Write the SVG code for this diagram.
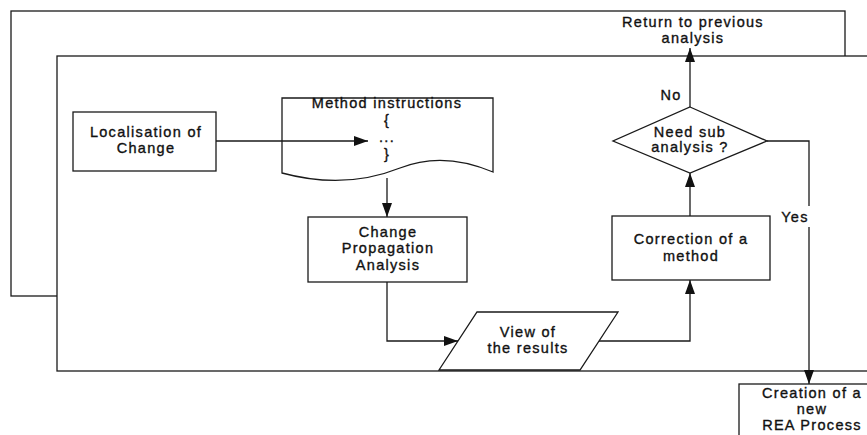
<svg xmlns="http://www.w3.org/2000/svg" width="867" height="435" viewBox="0 0 867 435">
<defs>
<style>
.f{fill:#fff;stroke:#1a1a1a;stroke-width:1.3}
.l{fill:none;stroke:#1a1a1a;stroke-width:1.3}
text{font-family:"Liberation Sans",Arial,sans-serif;font-size:14.5px;fill:#111;stroke:#111;stroke-width:0.35;text-anchor:middle;letter-spacing:1.3px}
</style>
<marker id="a" viewBox="0 0 14 10" refX="14" refY="5" markerWidth="14" markerHeight="10" markerUnits="userSpaceOnUse" orient="auto">
<path d="M0,0 L14,5 L0,10 Z" fill="#111"/>
</marker>
</defs>
<rect width="867" height="435" fill="#fff"/>
<g id="outer-frame"><rect class="f" x="11" y="11" width="834" height="285"/></g>
<g id="inner-frame"><rect class="f" x="57" y="56" width="830" height="315"/></g>
<g id="return">
<text x="693" y="27">Return to previous</text>
<text x="693" y="43">analysis</text>
</g>
<g id="localisation">
<rect class="f" x="73" y="112" width="143" height="59"/>
<text x="146" y="137">Localisation of</text>
<text x="146" y="153">Change</text>
</g>
<g id="method-instructions">
<path class="f" d="M282,98 H493 V172 C460,158 430,156 400,168 C370,180 330,186 282,173 Z"/>
<text x="387" y="108">Method instructions</text>
<text x="387" y="125">{</text>
<text x="387" y="142">...</text>
<text x="387" y="159">}</text>
</g>
<g id="change-propagation">
<rect class="f" x="308" y="217" width="159" height="65"/>
<text x="388" y="237">Change</text>
<text x="388" y="253">Propagation</text>
<text x="388" y="270">Analysis</text>
</g>
<g id="view-results">
<path class="f" d="M477,312 H618 L580,370 H439 Z"/>
<text x="528" y="337">View of</text>
<text x="528" y="353">the results</text>
</g>
<g id="correction">
<rect class="f" x="612" y="216" width="158" height="64"/>
<text x="691" y="244">Correction of a</text>
<text x="691" y="261">method</text>
</g>
<g id="need-sub">
<path class="f" d="M690,107 L767,141 L690,173 L613,141 Z"/>
<text x="690" y="137">Need sub</text>
<text x="690" y="152">analysis ?</text>
</g>
<g id="creation">
<rect class="f" x="739" y="384" width="140" height="60"/>
<text x="812" y="398">Creation of a</text>
<text x="812" y="414">new</text>
<text x="812" y="430">REA Process</text>
</g>
<g id="connectors">
<path class="l" d="M216,141 H368" marker-end="url(#a)"/>
<path class="l" d="M387,178 V217" marker-end="url(#a)"/>
<path class="l" d="M387,282 V341 H458" marker-end="url(#a)"/>
<path class="l" d="M599,341 H690 V280" marker-end="url(#a)"/>
<path class="l" d="M690,216 V173" marker-end="url(#a)"/>
<path class="l" d="M690,107 V48" marker-end="url(#a)"/>
<path class="l" d="M767,141 H809 V206 M809,227 V384" marker-end="url(#a)"/>
<text x="671" y="100">No</text>
<text x="795" y="222">Yes</text>
</g>
</svg>
